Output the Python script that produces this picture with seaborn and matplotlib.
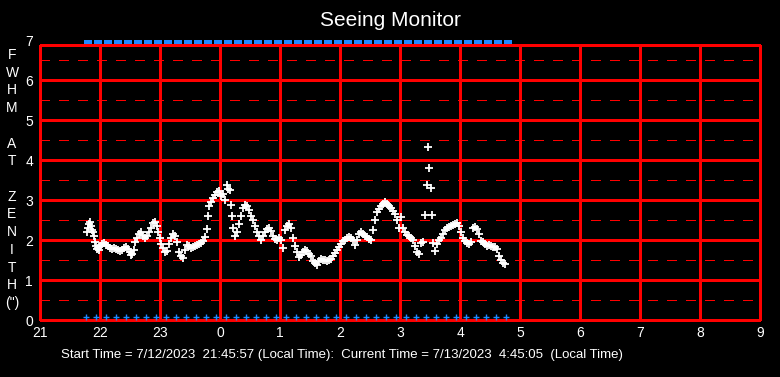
import numpy as np
import pandas as pd
import matplotlib
matplotlib.use('Agg')
import matplotlib.pyplot as plt
import seaborn as sns

# Seeing samples: minutes after 21:00 and FWHM (arcsec)
seeing_min = [47, 48, 49, 50, 51, 52, 53, 54, 55, 56, 57, 58, 59, 60, 62, 64, 66, 68, 70, 72,
              74, 76, 78, 80, 82, 84, 86, 88, 90, 91, 92, 94, 95, 97, 99, 101, 103, 105, 107, 109,
              111, 113, 115, 117, 118, 120, 121, 123, 125, 127, 129, 131, 133, 135, 137, 139, 141, 143, 145, 147,
              149, 151, 153, 155, 157, 159, 161, 163, 165, 167, 168, 169, 171, 173, 175, 177, 179, 181, 183, 185,
              187, 188, 190, 191, 192, 193, 195, 197, 199, 201, 203, 205, 207, 209, 211, 213, 215, 217, 219, 221,
              223, 225, 227, 229, 231, 233, 235, 237, 239, 241, 243, 245, 247, 249, 251, 253, 255, 257, 259, 261,
              263, 265, 267, 269, 271, 273, 275, 277, 279, 281, 283, 285, 287, 289, 291, 293, 295, 297, 299, 301,
              303, 305, 307, 309, 311, 313, 315, 317, 319, 321, 323, 325, 327, 329, 331, 333, 335, 337, 339, 341,
              343, 345, 347, 349, 351, 353, 355, 357, 359, 361, 363, 365, 367, 369, 371, 373, 375, 377, 379, 381,
              383, 385, 387, 388, 389, 391, 392, 393, 395, 397, 399, 401, 403, 405, 407, 409, 411, 413, 415, 417,
              419, 421, 423, 425, 427, 429, 431, 433, 435, 437, 439, 441, 443, 445, 447, 449, 451, 453, 455, 457,
              459, 461, 463, 465]
seeing_fwhm = [2.20, 2.30, 2.40, 2.45, 2.35, 2.25, 2.20, 2.10, 1.95, 1.85, 1.78, 1.80, 1.75, 1.85, 1.90, 1.92, 1.88, 1.85, 1.80, 1.78,
               1.80, 1.78, 1.75, 1.72, 1.75, 1.80, 1.82, 1.78, 1.70, 1.63, 1.65, 1.75, 1.95, 2.05, 2.15, 2.20, 2.10, 2.05, 2.10, 2.20,
               2.30, 2.42, 2.45, 2.35, 2.20, 2.05, 1.90, 1.80, 1.70, 1.72, 1.90, 2.05, 2.15, 2.10, 1.95, 1.70, 1.60, 1.55, 1.75, 1.88,
               1.85, 1.80, 1.82, 1.85, 1.88, 1.90, 1.93, 1.98, 2.07, 2.27, 2.60, 2.85, 2.95, 3.05, 3.12, 3.20, 3.22, 3.10, 3.15, 3.00,
               3.37, 3.27, 3.25, 2.87, 2.60, 2.30, 2.10, 2.20, 2.40, 2.60, 2.80, 2.87, 2.85, 2.75, 2.60, 2.50, 2.35, 2.20, 2.10, 2.00,
               2.10, 2.20, 2.28, 2.30, 2.22, 2.10, 2.03, 2.00, 2.05, 2.00, 1.80, 2.25, 2.35, 2.40, 2.30, 2.05, 1.85, 1.70, 1.58, 1.62,
               1.70, 1.75, 1.72, 1.65, 1.60, 1.48, 1.42, 1.38, 1.48, 1.52, 1.50, 1.50, 1.48, 1.50, 1.52, 1.60, 1.68, 1.75, 1.82, 1.90,
               1.97, 2.00, 2.05, 2.07, 2.05, 2.00, 1.88, 2.00, 2.15, 2.20, 2.15, 2.10, 2.07, 2.02, 2.00, 2.25, 2.50, 2.70, 2.78, 2.85,
               2.90, 2.95, 2.90, 2.85, 2.80, 2.72, 2.65, 2.50, 2.30, 2.57, 2.30, 2.20, 2.12, 2.10, 2.05, 2.00, 1.85, 1.70, 1.65, 1.92,
               1.95, 2.62, 3.37, 4.32, 3.80, 3.30, 2.62, 1.92, 1.72, 1.90, 2.00, 2.05, 2.15, 2.25, 2.30, 2.32, 2.35, 2.38, 2.40, 2.42,
               2.35, 2.20, 2.05, 1.98, 1.92, 1.90, 1.95, 2.30, 2.32, 2.28, 2.15, 1.98, 1.95, 1.90, 1.85, 1.87, 1.85, 1.82, 1.82, 1.78,
               1.60, 1.50, 1.42, 1.40]

# Monitor status samples (every 10 minutes), minutes after 21:00
status_min = [46, 56, 66, 76, 86, 96, 106, 116, 126, 136, 146, 156, 166, 176, 186, 196, 206, 216, 226, 236,
              246, 256, 266, 276, 286, 296, 306, 316, 326, 336, 346, 356, 366, 376, 386, 396, 406, 416, 426, 436,
              446, 456, 466]

hour_labels = ['21', '22', '23', '0', '1', '2', '3', '4', '5', '6', '7', '8', '9']

seeing = pd.DataFrame({'hours': np.array(seeing_min) / 60.0, 'fwhm': seeing_fwhm})
status = pd.DataFrame({'hours': np.array(status_min) / 60.0})

sns.set_style('dark')
plt.rcParams['font.family'] = ['Liberation Sans', 'DejaVu Sans']

RED = '#ff0000'
BLUE = '#1e88ff'

fig = plt.figure(figsize=(7.8, 3.77), dpi=100, facecolor='black')
ax = fig.add_axes([40 / 780, 57 / 377, 720 / 780, 280 / 377])
ax.set_facecolor('black')
ax.set_xlim(0, 12)
ax.set_ylim(0, 7)
top = 6.875

# grid: solid at whole hours / whole arcsec, dashed at half arcsec
grid_kw = dict(color=RED, antialiased=False, zorder=1)
for h in range(13):
    ax.axvline(h, ymax=top / 7, lw=1.0, clip_on=False, **grid_kw)
for v in range(1, 7):
    ax.axhline(v, lw=1.0, **grid_kw)
    ax.axhline(v - 0.5, lw=1.0, linestyle=(0, (7, 7)), **grid_kw)
ax.axhline(6.5, lw=1.0, linestyle=(0, (7, 7)), **grid_kw)
ax.axhline(0, lw=1.0, clip_on=False, **grid_kw)
ax.axhline(top, lw=1.0, **grid_kw)

# seeing data
sns.scatterplot(data=seeing, x='hours', y='fwhm', marker='+', color='white',
                s=32, linewidth=1.3, ax=ax, zorder=3)

# status markers top and bottom
rect = [(-1, -0.6), (1, -0.6), (1, 0.6), (-1, 0.6), (-1, -0.6)]
sns.scatterplot(x=status['hours'] + 0.04, y=[6.94] * len(status), marker=rect, color=BLUE,
                s=34, linewidth=0, ax=ax, zorder=4)
sns.scatterplot(x=status['hours'], y=[0.07] * len(status), marker='+', color=BLUE,
                s=18, linewidth=1.0, ax=ax, zorder=4)

for s in ax.spines.values():
    s.set_visible(False)
ax.grid(False)
ax.set_xticks(range(13))
ax.set_xticklabels(hour_labels)
ax.set_yticks(range(8))
ax.tick_params(length=0, colors='white', labelsize=10)
ax.tick_params(axis='x', pad=4)
ax.tick_params(axis='y', pad=5)
ax.set_xlabel('')
ax.set_ylabel('')

fig.text(0.5, 1 - 20 / 377, 'Seeing Monitor', color='white', fontsize=15,
         ha='center', va='center')
fig.text(12 / 780, 1 - 179 / 377, 'F\nW\nH\nM\n\nA\nT\n\nZ\nE\nN\nI\nT\nH\n(")',
         color='white', fontsize=10, ha='center', va='center', linespacing=1.34)
fig.text(342 / 780, 1 - 355 / 377,
         'Start Time = 7/12/2023  21:45:57 (Local Time):  Current Time = 7/13/2023  4:45:05  (Local Time)',
         color='white', fontsize=9.5, ha='center', va='center')

fig.savefig('out.png', dpi=100, facecolor='black')
